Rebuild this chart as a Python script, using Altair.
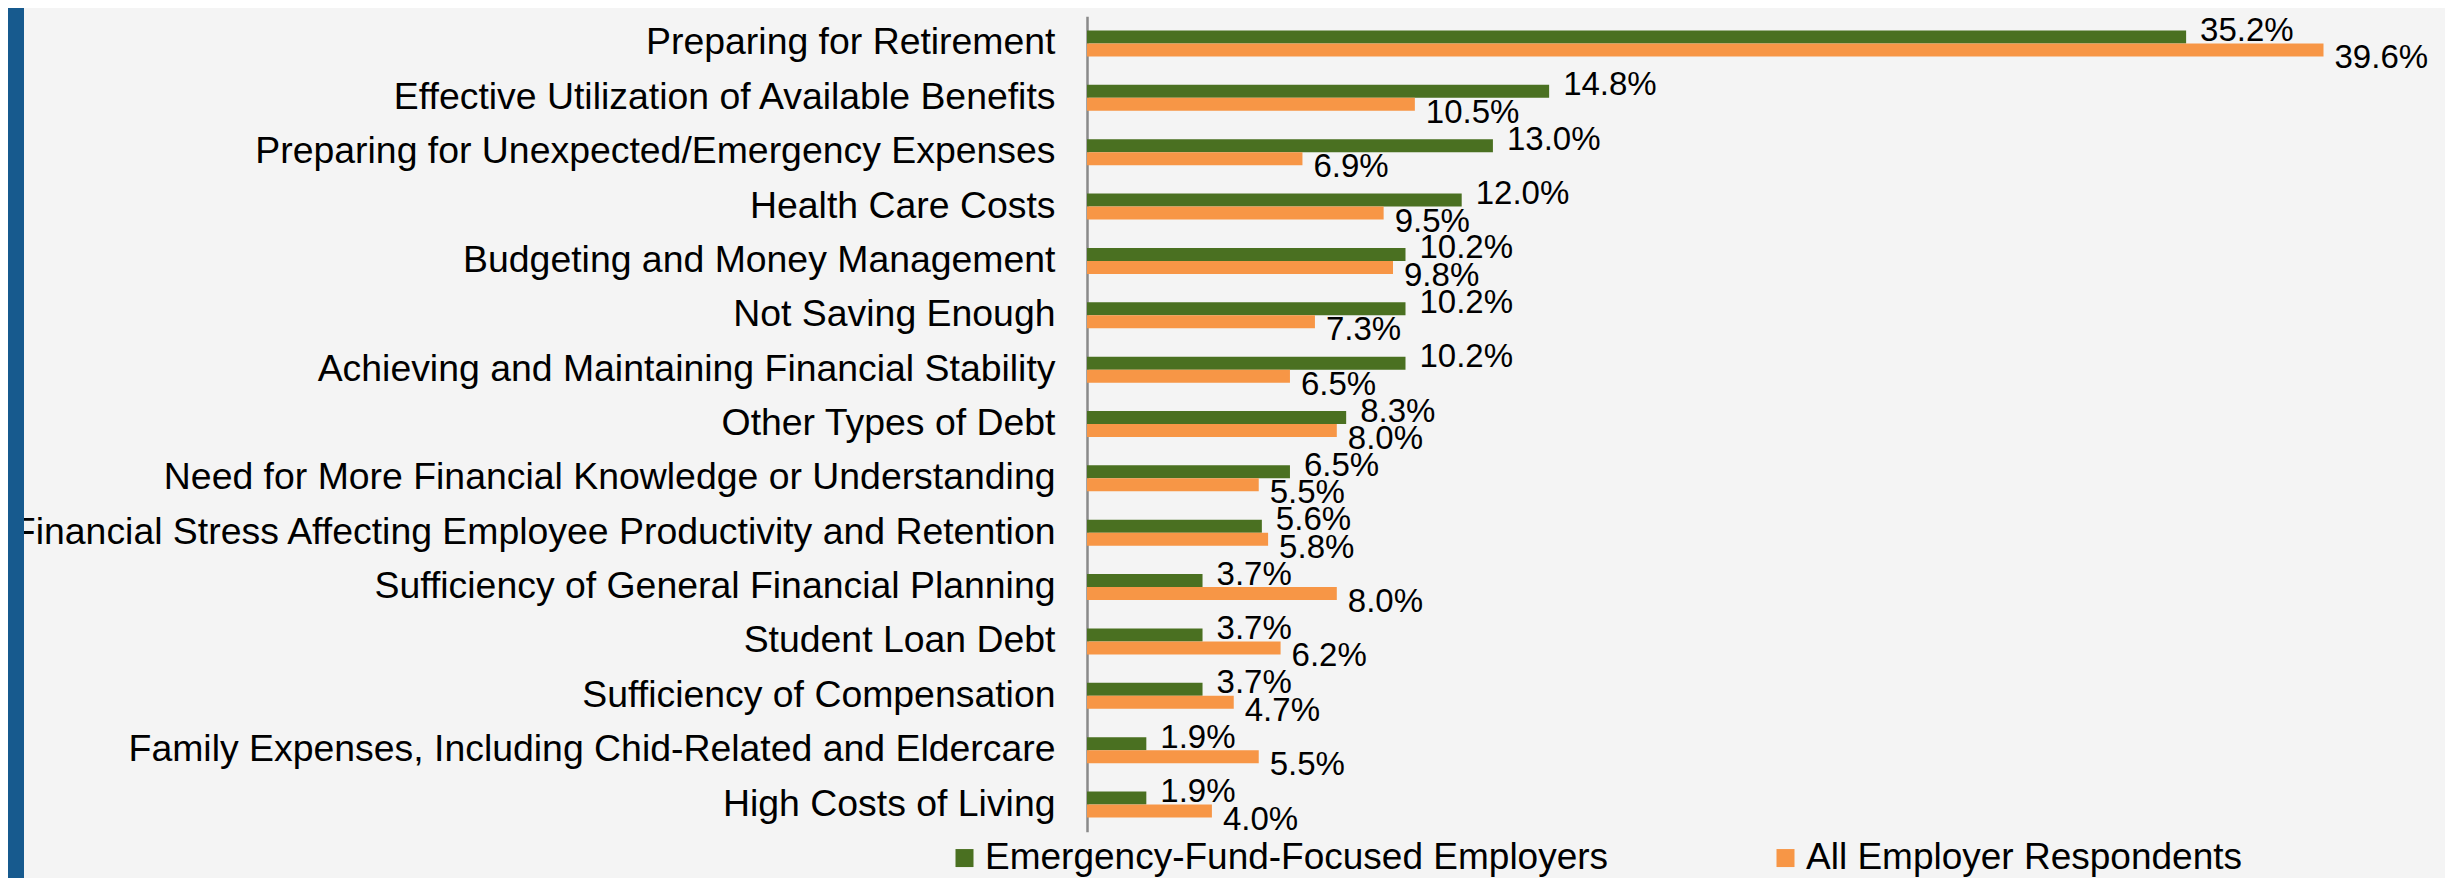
import altair as alt
import pandas as pd

categories = [
    "Preparing for Retirement",
    "Effective Utilization of Available Benefits",
    "Preparing for Unexpected/Emergency Expenses",
    "Health Care Costs",
    "Budgeting and Money Management",
    "Not Saving Enough",
    "Achieving and Maintaining Financial Stability",
    "Other Types of Debt",
    "Need for More Financial Knowledge or Understanding",
    "Financial Stress Affecting Employee Productivity and Retention",
    "Sufficiency of General Financial Planning",
    "Student Loan Debt",
    "Sufficiency of Compensation",
    "Family Expenses, Including Chid-Related and Eldercare",
    "High Costs of Living",
]
series_names = ["Emergency-Fund-Focused Employers", "All Employer Respondents"]
emergency_values = [35.2, 14.8, 13.0, 12.0, 10.2, 10.2, 10.2, 8.3, 6.5, 5.6, 3.7, 3.7, 3.7, 1.9, 1.9]
all_values = [39.6, 10.5, 6.9, 9.5, 9.8, 7.3, 6.5, 8.0, 5.5, 5.8, 8.0, 6.2, 4.7, 5.5, 4.0]
colors = ["#4A7021", "#F79646"]

rows = []
for c, v in zip(categories, emergency_values):
    rows.append({"category": c, "series": series_names[0], "value": v})
for c, v in zip(categories, all_values):
    rows.append({"category": c, "series": series_names[1], "value": v})
df = pd.DataFrame(rows)

FONT = "Liberation Sans"
W, H = 1249, 815.4
PAD_L, PAD_T = 1079, 8.3
TOTAL_W, TOTAL_H = 2437, 870

y_enc = alt.Y(
    "category:N",
    sort=categories,
    scale=alt.Scale(paddingInner=0.5217, paddingOuter=0.2609),
    axis=alt.Axis(
        title=None,
        ticks=False,
        tickSize=0,
        labelPadding=32,
        labelFont=FONT,
        labelFontSize=37.4,
        labelColor="#000000",
        labelLimit=1100,
        domainColor="#8a8a8a",
        domainWidth=2.5,
        grid=False,
    ),
)
x_enc = alt.X("value:Q", scale=alt.Scale(domain=[0, 40], nice=False), axis=None)

base = alt.Chart(df).transform_calculate(
    label="format(datum.value, '.1f') + '%'"
)

bars = base.mark_bar().encode(
    x=x_enc,
    y=y_enc,
    yOffset=alt.YOffset(
        "series:N", sort=series_names, scale=alt.Scale(paddingInner=0, paddingOuter=0)
    ),
    color=alt.Color(
        "series:N",
        sort=series_names,
        scale=alt.Scale(domain=series_names, range=colors),
        legend=alt.Legend(
            title=None,
            orient="none",
            direction="horizontal",
            columns=2,
            legendX=-141,
            legendY=823,
            padding=0,
            symbolType="square",
            symbolSize=324,
            symbolStrokeWidth=0,
            labelOffset=2,
            columnPadding=158,
            labelFont=FONT,
            labelFontSize=37,
            labelColor="#000000",
            labelLimit=900,
        ),
    ),
)

green_text = base.transform_filter(
    alt.datum.series == series_names[0]
).mark_text(
    align="left", baseline="middle", dx=14, dy=-12.5, font=FONT, fontSize=33, color="#000000"
).encode(x=x_enc, y=alt.Y("category:N", sort=categories), text="label:N")

orange_text = base.transform_filter(
    alt.datum.series == series_names[1]
).mark_text(
    align="left", baseline="middle", dx=11, dy=15, font=FONT, fontSize=33, color="#000000"
).encode(x=x_enc, y=alt.Y("category:N", sort=categories), text="label:N")

strip = alt.Chart(pd.DataFrame({"s": [0]})).mark_rect(color="#175A8E").encode(
    x=alt.value(-PAD_L), x2=alt.value(-PAD_L + 16), y=alt.value(-PAD_T), y2=alt.value(TOTAL_H)
)

chart = alt.layer(strip, bars, green_text, orange_text).properties(
    width=W,
    height=H,
    background="#F4F4F4",
    padding={"left": PAD_L, "top": PAD_T, "right": TOTAL_W - PAD_L - W, "bottom": TOTAL_H - PAD_T - H},
    autosize=alt.AutoSizeParams(type="none"),
).configure_view(stroke=None)

chart.save("out.html", embed_options={"renderer": "svg", "actions": False})
